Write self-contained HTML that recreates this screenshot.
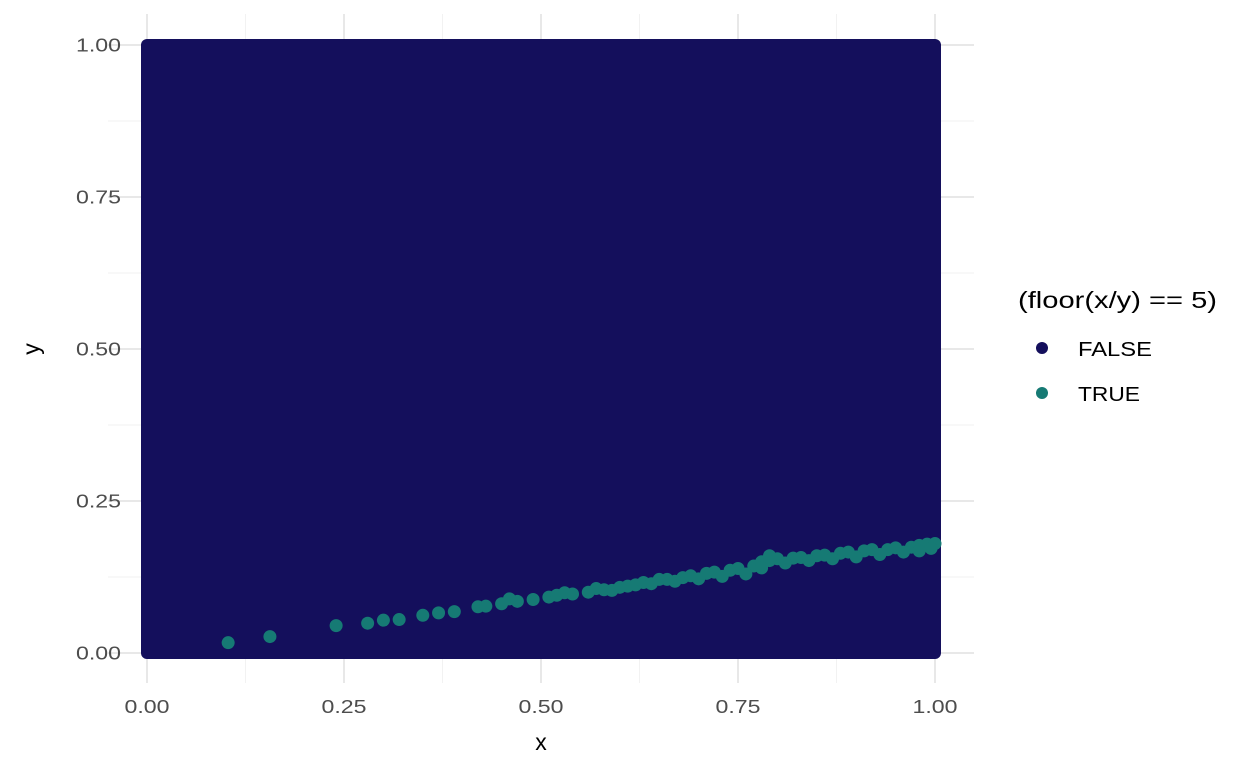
<!DOCTYPE html>
<html><head><meta charset="utf-8"><style>
body{margin:0;background:#fff;}
svg{display:block;font-family:"Liberation Sans",Arial,sans-serif;}
</style></head><body>
<svg id="chart" width="1248" height="768"></svg>
<script>
const xTicks=[0,0.25,0.5,0.75,1];
const yTicks=[0,0.25,0.5,0.75,1];
const xTickLabels=["0.00","0.25","0.50","0.75","1.00"];
const yTickLabels=["0.00","0.25","0.50","0.75","1.00"];
const falseRange=[0,1];
const trueX=[0.103,0.156,0.24,0.28,0.30,0.32,0.35,0.37,0.39,0.42,0.43,0.45,0.47,0.49,0.51,0.52,0.54,0.56,0.57,0.58,0.59,0.60,0.62,0.63,0.65,0.66,0.68,0.69,0.71,0.72,0.74,0.75,0.77,0.78,0.79,0.80,0.82,0.83,0.85,0.86,0.88,0.89,0.91,0.92,0.94,0.95,0.97,0.98,0.99,1.0,
 0.46,0.53,0.61,0.64,0.67,0.70,0.73,0.76,0.78,0.79,0.81,0.84,0.87,0.90,0.93,0.96,0.98,0.995];
const trueY=[0.017,0.027,0.045,0.049,0.054,0.055,0.062,0.066,0.068,0.076,0.077,0.081,0.085,0.088,0.092,0.095,0.097,0.100,0.106,0.104,0.103,0.108,0.112,0.116,0.121,0.121,0.124,0.127,0.131,0.133,0.136,0.139,0.143,0.150,0.152,0.155,0.156,0.157,0.160,0.161,0.164,0.166,0.168,0.170,0.170,0.173,0.174,0.177,0.179,0.180,
 0.089,0.099,0.110,0.114,0.118,0.122,0.126,0.130,0.140,0.160,0.148,0.152,0.155,0.158,0.162,0.166,0.168,0.172];
const NS="http://www.w3.org/2000/svg";
const svg=document.getElementById('chart');
const X=v=>147+v*788, Y=v=>653-v*608;
function el(t,a,txt){const e=document.createElementNS(NS,t);for(const k in a)e.setAttribute(k,a[k]);if(txt!=null)e.textContent=txt;svg.appendChild(e);return e;}
for(let i=0;i<4;i++){const v=(xTicks[i]+xTicks[i+1])/2;
 let g=el('line',{x1:X(v),x2:X(v),y1:14,y2:683,stroke:'#f2f2f2','stroke-width':1});
 
 g=el('line',{x1:108,x2:974,y1:Y(v),y2:Y(v),stroke:'#f2f2f2','stroke-width':1});
 }
xTicks.forEach((v,i)=>{
 let g=el('line',{x1:X(v),x2:X(v),y1:14,y2:683,stroke:'#e8e8e8','stroke-width':2});
 
 let t=el('text',{x:X(v)-22.5,y:713,'font-size':18,fill:'#4d4d4d',textLength:45,lengthAdjust:'spacingAndGlyphs'},xTickLabels[i]);
 });
yTicks.forEach((v,i)=>{
 let g=el('line',{x1:108,x2:974,y1:Y(v),y2:Y(v),stroke:'#e8e8e8','stroke-width':2});
 
 let t=el('text',{x:76,y:Y(v)+6.5,'font-size':18,fill:'#4d4d4d',textLength:45,lengthAdjust:'spacingAndGlyphs'},yTickLabels[i]);
 });
const r=el('rect',{x:X(falseRange[0])-6,y:Y(falseRange[1])-6,width:X(falseRange[1])-X(falseRange[0])+12,height:Y(falseRange[0])-Y(falseRange[1])+12,rx:6,fill:'#140f5c'});

trueX.forEach((v,i)=>{const c=el('circle',{cx:X(v),cy:Y(trueY[i]),r:6.5,fill:'#167a74'});
 });
let t=el('text',{x:541,y:750,'text-anchor':'middle','font-size':23,fill:'#000'},'x');

t=el('text',{x:0,y:0,'text-anchor':'middle','font-size':23,fill:'#000',transform:'translate(39,349) rotate(-90)'},'y');

t=el('text',{x:1018,y:308,'font-size':23,fill:'#000',textLength:199,lengthAdjust:'spacingAndGlyphs'},'(floor(x/y) == 5)');

let c=el('circle',{cx:1042,cy:348,r:6,fill:'#140f5c'});
c=el('circle',{cx:1042,cy:393,r:6,fill:'#167a74'});
t=el('text',{x:1078,y:356,'font-size':20,fill:'#000',textLength:74,lengthAdjust:'spacingAndGlyphs'},'FALSE');
t=el('text',{x:1078,y:401,'font-size':20,fill:'#000',textLength:62,lengthAdjust:'spacingAndGlyphs'},'TRUE');
</script>
</body></html>
